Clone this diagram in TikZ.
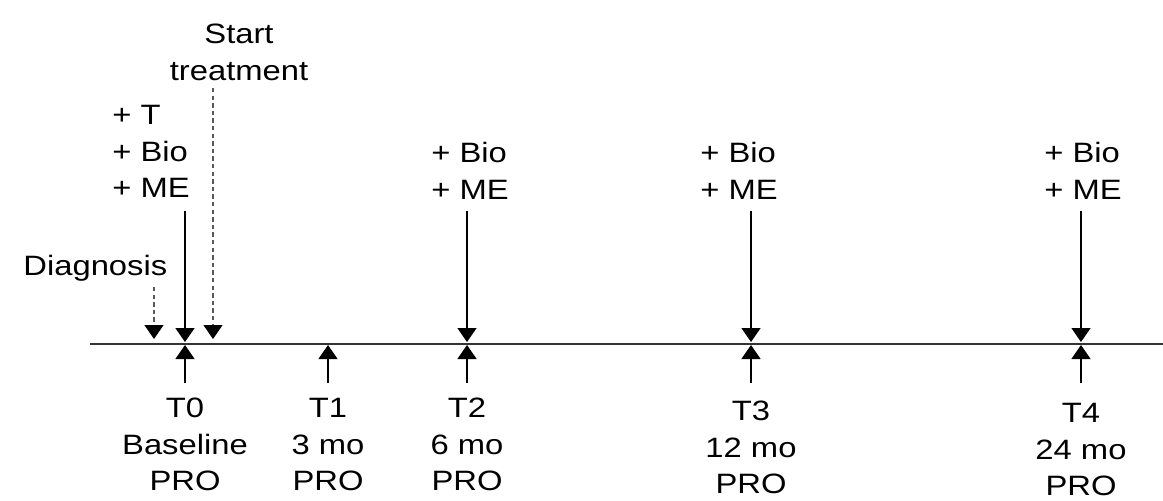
\documentclass[tikz,border=0pt]{standalone}
\usepackage{fontspec}
\setmainfont[FakeStretch=1.17]{Liberation Sans}
\usetikzlibrary{arrows.meta}

\begin{document}
\begin{tikzpicture}[x=0.5pt, y=-0.5pt, >={Triangle[length=7pt,width=9.5pt]},
  lbl/.style={inner sep=0pt, align=center, font=\fontsize{14}{18.2}\selectfont},
  note/.style={inner sep=0pt, align=left, font=\fontsize{14}{18.2}\selectfont},
  evt/.style={->, line width=0.7pt},
  hint/.style={-{Triangle[length=7pt,width=9.5pt,color=black]}, line width=0.6pt,
               dash pattern=on 2.2pt off 1.6pt, draw=black!65}]
\useasboundingbox (0,0) rectangle (1163,500);
% timeline
\coordinate (L) at (90,344);
\coordinate (R) at (1163,344);
\draw[line width=0.6pt, black!80] (L) -- (R);
% visit labels below the line
\node[lbl, anchor=north] (lT0) at (185,398) {T0\\Baseline\\PRO};
\node[lbl, anchor=north] (lT1) at (328,398) {T1\\3 mo\\PRO};
\node[lbl, anchor=north] (lT2) at (467,398) {T2\\6 mo\\PRO};
\node[lbl, anchor=north] (lT3) at (751,401) {T3\\12 mo\\PRO};
\node[lbl, anchor=north] (lT4) at (1081,403) {T4\\24 mo\\PRO};
% up arrows (PRO)
\foreach \n/\x in {0/185, 1/328, 2/467, 3/751, 4/1081}{
    \coordinate (u\n) at (\x,383);
    \coordinate (t\n) at (\x,345);
    \draw[evt] (u\n) -- (t\n);
}
% extra measurements above the line
\node[note, anchor=north west] (aT0) at (112,105) {+ T\\+ Bio\\+ ME};
\node[note, anchor=north west] (aT2) at (431,142) {+ Bio\\+ ME};
\node[note, anchor=north west] (aT3) at (700,142) {+ Bio\\+ ME};
\node[note, anchor=north west] (aT4) at (1044,142) {+ Bio\\+ ME};
\foreach \n/\x in {0/185, 2/467, 3/751, 4/1081}{
    \coordinate (d\n) at (\x,211);
    \coordinate (s\n) at (\x,342);
    \draw[evt] (d\n) -- (s\n);
}
% diagnosis and start of treatment
\node[note, anchor=north west] (diag) at (23,255) {Diagnosis};
\node[lbl, anchor=north] (start) at (239,24) {Start\\treatment};
\coordinate (dg0) at (154,287);
\coordinate (dg1) at (154,339);
\coordinate (st0) at (213,88);
\coordinate (st1) at (213,339);
\draw[hint] (dg0) -- (dg1);
\draw[hint] (st0) -- (st1);
\end{tikzpicture}
\end{document}
